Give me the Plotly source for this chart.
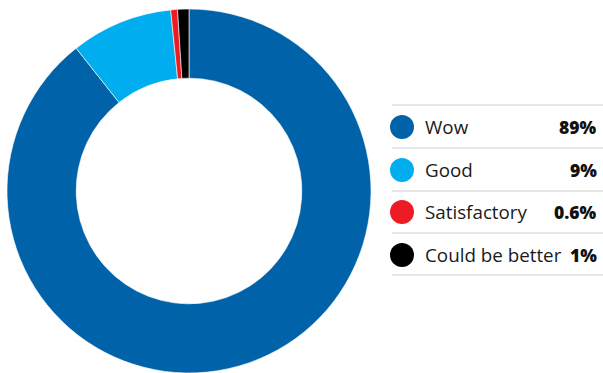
import plotly.graph_objects as go

labels = ["Wow", "Good", "Satisfactory", "Could be better"]
values = [89, 9, 0.6, 1]
colors = ["#0062A8", "#00AEEF", "#ED1C24", "#000000"]

W, H = 603, 373

def px(x):
    return x / W

def py(y):
    return (H - y) / H

fig = go.Figure()
cx, cy, r = 189, 191, 182
fig.add_trace(go.Pie(
    labels=labels, values=values, sort=False, direction="clockwise", rotation=0,
    hole=0.62, marker=dict(colors=colors, line=dict(color="white", width=0.6)),
    textinfo="none", hoverinfo="label+value", showlegend=False,
    domain=dict(x=[px(cx - r), px(cx + r)], y=[py(cy + r), py(cy - r)]),
))

shapes = []
annotations = []
row_y = [127, 170, 212, 255]
line_y = [105, 148, 191, 233, 275]
for ly in line_y:
    shapes.append(dict(type="line", xref="paper", yref="paper",
                       x0=px(392), x1=px(603), y0=py(ly), y1=py(ly),
                       line=dict(color="#CCCCCC", width=1)))
for lab, val, col, ry in zip(labels, values, colors, row_y):
    shapes.append(dict(type="circle", xref="paper", yref="paper",
                       x0=px(390), x1=px(414), y0=py(ry + 12), y1=py(ry - 12),
                       fillcolor=col, line=dict(width=0)))
    annotations.append(dict(xref="paper", yref="paper", x=px(423), y=py(ry),
                            xanchor="left", yanchor="middle", text=lab, showarrow=False,
                            font=dict(family="Open Sans", size=18.8, color="#1A1A1A")))
    annotations.append(dict(xref="paper", yref="paper", x=px(599), y=py(ry),
                            xanchor="right", yanchor="middle", text=f"{val:g}%",
                            showarrow=False,
                            font=dict(family="Open Sans", size=17.5, weight=800, color="#111111")))

fig.update_layout(width=W, height=H, margin=dict(l=0, r=0, t=0, b=0),
                  paper_bgcolor="white", plot_bgcolor="white",
                  shapes=shapes, annotations=annotations)
fig.write_html("out.html", config={"displayModeBar": False},
               post_script="document.body.style.margin='0';document.body.style.overflow='hidden';")
